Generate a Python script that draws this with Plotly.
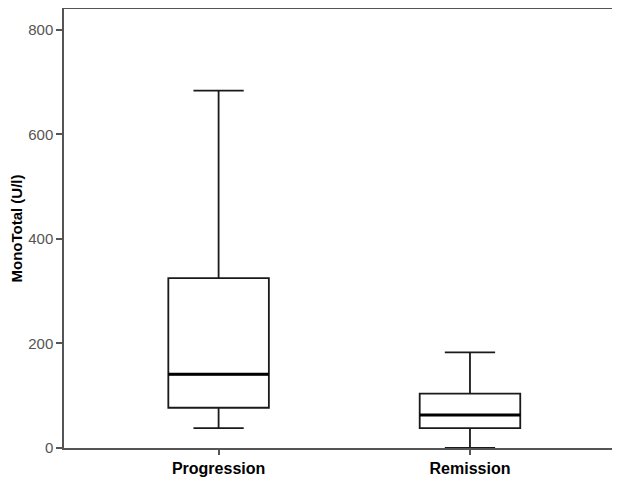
import plotly.graph_objects as go

categories = ["Progression", "Remission"]
lower_whisker = [38, 0]
q1 = [77, 38]
median = [141, 63]
q3 = [325, 104]
upper_whisker = [684, 183]

y_ticks = [0, 200, 400, 600, 800]

BOX_W = 0.4
fig = go.Figure()
for i, cat in enumerate(categories):
    fig.add_trace(go.Box(
        x=[i], q1=[q1[i]], median=[median[i]], q3=[q3[i]],
        lowerfence=[lower_whisker[i]], upperfence=[upper_whisker[i]],
        width=BOX_W, whiskerwidth=0.5,
        fillcolor="white", line=dict(color="#1a1a1a", width=1.8),
        boxpoints=False, showlegend=False, hoverinfo="skip",
    ))
    fig.add_trace(go.Scatter(
        x=[i - BOX_W / 2, i + BOX_W / 2], y=[median[i], median[i]],
        mode="lines", line=dict(color="black", width=3),
        showlegend=False, hoverinfo="skip",
    ))

axis_color = "#555555"
fig.update_layout(
    width=604, height=471,
    margin=dict(l=56, r=0, t=1, b=31),
    paper_bgcolor="white", plot_bgcolor="white",
    font=dict(family="Liberation Sans, Arial, sans-serif"),
    xaxis=dict(
        range=[-0.615, 1.565], tickvals=[0, 1], ticktext=categories,
        automargin=False,
        showgrid=False, zeroline=False,
        showline=True, linecolor=axis_color, linewidth=1.5, mirror=True,
        ticks="outside", ticklen=5, tickcolor=axis_color, tickwidth=1.5,
        tickfont=dict(size=16, color="black", family="Liberation Sans, Arial, sans-serif", weight="bold"),
    ),
    yaxis=dict(
        range=[0, 840], tickvals=y_ticks,
        automargin=False,
        showgrid=False, zeroline=False,
        showline=True, linecolor=axis_color, linewidth=1.5,
        ticks="outside", ticklen=6, tickcolor=axis_color, tickwidth=1.5,
        tickfont=dict(size=15, color="#555555"),
        title=dict(text="<b>MonoTotal (U/l)</b>", font=dict(size=15, color="black"), standoff=4),
    ),
)

fig.write_html("out.html")
